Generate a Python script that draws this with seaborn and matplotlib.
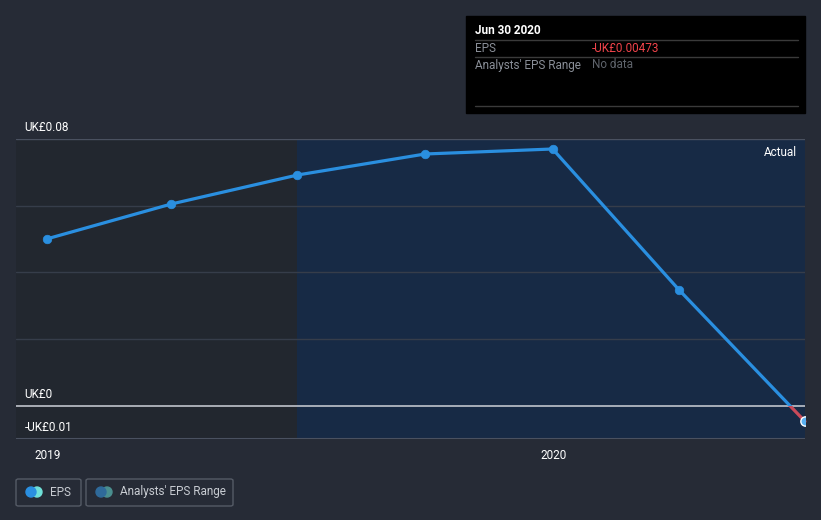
import pandas as pd
import seaborn as sns
import matplotlib.pyplot as plt
import matplotlib.dates as mdates
import matplotlib.patches as mpatches

# data
dates = ["2018-12-31", "2019-03-31", "2019-06-30", "2019-09-30",
         "2019-12-31", "2020-03-31", "2020-06-30"]
eps = [0.0500, 0.0605, 0.0692, 0.0755, 0.0770, 0.0348, -0.00473]
y_ticks = [0.08, 0.0, -0.01]
y_tick_labels = ["UK£0.08", "UK£0", "-UK£0.01"]
x_ticks = ["2019-01-01", "2020-01-01"]
x_tick_labels = ["2019", "2020"]

df = pd.DataFrame({"date": pd.to_datetime(dates), "eps": eps})

BG = "#262b36"
LEFT_BG = "#22272f"
SHADE = "#172a45"
BLUE = "#2a8fe0"
RED = "#c94a5a"
GRID = "#363d4a"
TXT = "#ffffff"
GREY = "#8a8f98"
FS = 8.5

sns.set_style("dark")
plt.rcParams['font.family'] = ['Roboto', 'DejaVu Sans']

fig = plt.figure(figsize=(8.21, 5.2), dpi=100, facecolor=BG)
W, H = 821, 520
ax = fig.add_axes([16 / W, (H - 439) / H, (805 - 16) / W, (439 - 139) / H])
ax.set_facecolor(LEFT_BG)

xmin = pd.Timestamp("2018-12-09")
xmax = pd.Timestamp("2020-06-30")
ax.set_xlim(xmin, xmax)
ax.set_ylim(-0.01, 0.08)

# shaded "actual" region
ax.axvspan(pd.Timestamp("2019-06-30"), xmax, color=SHADE, zorder=0, lw=0)

# grid lines
for g in [0.02, 0.04, 0.06]:
    ax.axhline(g, color=GRID, lw=1, zorder=1)
ax.axhline(0.08, color="#4a5160", lw=1, zorder=1)
ax.axhline(0.0, color="#c0c4cc", lw=1.2, zorder=2)

# line: blue above zero, red below zero
sns.lineplot(data=df, x="date", y="eps", ax=ax, color=BLUE, lw=2.3, zorder=3)
blue_line = ax.lines[-1]
sns.lineplot(data=df, x="date", y="eps", ax=ax, color=RED, lw=2.3, zorder=3)
red_line = ax.lines[-1]
upper = mpatches.Rectangle((mdates.date2num(xmin), 0), 1e4, 1, transform=ax.transData)
lower = mpatches.Rectangle((mdates.date2num(xmin), -1), 1e4, 1, transform=ax.transData)
blue_line.set_clip_path(upper)
red_line.set_clip_path(lower)

sns.scatterplot(data=df.iloc[:-1], x="date", y="eps", ax=ax, color=BLUE,
                s=38, edgecolor=BLUE, zorder=4)
sns.scatterplot(data=df.iloc[-1:], x="date", y="eps", ax=ax, color="#5ab0f0",
                s=45, edgecolor="white", linewidth=1, zorder=5)

for s in ax.spines.values():
    s.set_visible(False)
ax.axhline(-0.01, color="#4a5160", lw=1.5, zorder=2)

ax.set_yticks([])
ax.set_xticks(pd.to_datetime(x_ticks))
ax.set_xticklabels(x_tick_labels, color=TXT, fontsize=FS)
ax.tick_params(axis="x", length=4, color="#4a5160", pad=3)
ax.set_xlabel("")
ax.set_ylabel("")

# y labels above grid lines
for v, lab in zip(y_ticks, y_tick_labels):
    ax.annotate(lab, xy=(0, v), xycoords=("axes fraction", "data"),
                xytext=(6, 3.5), textcoords="offset points", color=TXT,
                fontsize=FS, va="bottom")

ax.text(0.99, 0.977, "Actual", transform=ax.transAxes, ha="right", va="top",
        color=TXT, fontsize=FS)

# tooltip box
fig.patches.append(mpatches.Rectangle((466 / W, 1 - 113 / H), 339 / W, 97 / H,
                                      transform=fig.transFigure, color="black"))
for yy in [40, 57, 106]:
    fig.lines.append(plt.Line2D([475 / W, 798 / W], [1 - yy / H] * 2,
                                transform=fig.transFigure, color="#3a3a3a", lw=1))
fig.text(475 / W, 1 - 31 / H, "Jun 30 2020", color=TXT, fontsize=FS,
         fontweight="bold", va="center")
fig.text(475 / W, 1 - 48 / H, "EPS", color=GREY, fontsize=FS, va="center")
fig.text(592 / W, 1 - 48 / H, "-UK£0.00473", color="#f0434a", fontsize=FS, va="center")
fig.text(475 / W, 1 - 65 / H, "Analysts' EPS Range", color=GREY, fontsize=FS, va="center")
fig.text(592 / W, 1 - 65 / H, "No data", color="#5f646c", fontsize=FS, va="center")

# legend buttons
for x0, x1, label, c1, c2 in [(16, 81, "EPS", BLUE, "#6fe0d8"),
                              (86, 233, "Analysts' EPS Range", "#2f6a9a", "#4a8f8f")]:
    fig.patches.append(mpatches.FancyBboxPatch(
        (x0 / W, 1 - 506 / H), (x1 - x0) / W, 27 / H,
        boxstyle="round,pad=0,rounding_size=0.003", transform=fig.transFigure,
        facecolor="none", edgecolor="#555b66", lw=1))
    fig.patches.append(mpatches.Ellipse(((x0 + 21) / W, 1 - 492 / H), 10 / W, 10 / H,
                                        transform=fig.transFigure, color=c2))
    fig.patches.append(mpatches.Ellipse(((x0 + 15) / W, 1 - 492 / H), 10 / W, 10 / H,
                                        transform=fig.transFigure, color=c1))
    fig.text((x0 + 34) / W, 1 - 492 / H, label, color="#c8ccd2", fontsize=FS, va="center")

fig.savefig("out.png", dpi=100, facecolor=BG)
